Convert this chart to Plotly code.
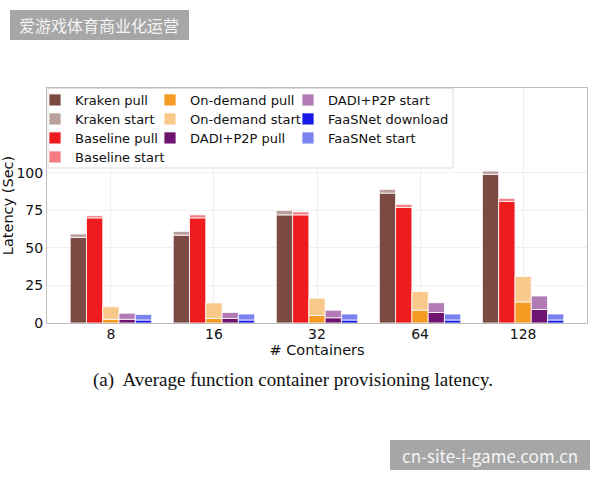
import plotly.graph_objects as go

containers = ["8", "16", "32", "64", "128"]

kraken_pull = [57, 58.5, 72, 86.5, 99]
kraken_start = [2.3, 2.5, 3, 2.5, 2.2]
baseline_pull = [70, 70, 72, 77, 81]
baseline_start = [1.5, 2, 2, 2, 2]
ondemand_pull = [2.5, 3, 5, 8.6, 14]
ondemand_start = [8.3, 10.4, 11.5, 12.4, 17]
dadi_pull = [2.5, 3, 3.5, 7, 9]
dadi_start = [4, 4, 5, 6.5, 9]
faasnet_download = [2, 2, 2, 2, 2]
faasnet_start = [3.7, 4, 4, 4, 4]

series = [
    ("Kraken pull", kraken_pull, None, "#7b4a43", "g1"),
    ("Kraken start", kraken_start, kraken_pull, "#b9a09c", "g1"),
    ("Baseline pull", baseline_pull, None, "#ee1c1e", "g2"),
    ("Baseline start", baseline_start, baseline_pull, "#f37c82", "g2"),
    ("On-demand pull", ondemand_pull, None, "#f59a23", "g3"),
    ("On-demand start", ondemand_start, ondemand_pull, "#f8c98b", "g3"),
    ("DADI+P2P pull", dadi_pull, None, "#6e1470", "g4"),
    ("DADI+P2P start", dadi_start, dadi_pull, "#b27bb6", "g4"),
    ("FaaSNet download", faasnet_download, None, "#1717e8", "g5"),
    ("FaaSNet start", faasnet_start, faasnet_download, "#7b83ef", "g5"),
]

# pixel geometry helpers
L, R, T, B = 47, 587, 88, 323
def px(xp):
    return (xp - L) / (R - L)
def py(yp):
    return (B - yp) / (B - T)

font = "DejaVu Sans"
legfont = dict(family=font, size=13, color="#111111")

# legend slots (column-major, 4/3/3 like matplotlib ncol=3)
col_x = [35, 150, 288]
row_c = [99, 118, 137, 156]
slots = [(0, 0), (0, 1), (0, 2), (0, 3), (1, 0), (1, 1), (1, 2), (2, 0), (2, 1), (2, 2)]

fig = go.Figure()
legends = {}
for i, (name, vals, base, color, grp) in enumerate(series):
    key = "legend" if i == 0 else f"legend{i + 1}"
    fig.add_trace(go.Bar(
        x=containers, y=vals, base=base, name=name, offsetgroup=grp,
        marker=dict(color=color, line=dict(color="white", width=0.8)),
        legend=key, showlegend=True,
    ))
    c, r = slots[i]
    legends[key] = dict(x=px(col_x[c]), y=py(row_c[r] - 14), xanchor="left", yanchor="top",
                        bgcolor="rgba(0,0,0,0)", font=legfont, itemwidth=30, visible=True)

fig.update_layout(
    width=600, height=480,
    showlegend=True,
    margin=dict(l=L, r=600 - R, t=T, b=480 - B, pad=0, autoexpand=False),
    paper_bgcolor="white", plot_bgcolor="white",
    barmode="group", bargap=0.21, bargroupgap=0.0,
    font=dict(family=font, size=13, color="#111111"),
    xaxis=dict(type="category", showgrid=True, gridcolor="#efefef", gridwidth=1,
               showline=True, linecolor="#bdbdbd", linewidth=1, mirror=True,
               ticks="", ticklen=0, ticklabelstandoff=-2,
               tickfont=dict(size=14, color="#111111"), automargin=False,
               title=dict(text="# Containers", font=dict(size=14.5, color="#111111"), standoff=0),
               range=[-0.62, 4.62]),
    yaxis=dict(range=[0, 156.5], tickvals=[0, 25, 50, 75, 100], showgrid=True,
               gridcolor="#efefef", gridwidth=1, zeroline=False,
               showline=True, linecolor="#bdbdbd", linewidth=1, mirror=True,
               ticks="", ticklen=0, tickfont=dict(size=14, color="#111111"), automargin=False,
               title=dict(text="Latency (Sec)", font=dict(size=14.5, color="#111111"), standoff=7)),
    shapes=[
        dict(type="rect", xref="paper", yref="paper", layer="above",
             x0=px(48), x1=px(453), y0=py(168), y1=py(88.5),
             fillcolor="rgba(255,255,255,0.9)", line=dict(color="#dddddd", width=1)),
        dict(type="rect", xref="paper", yref="paper", layer="above",
             x0=px(10), x1=px(189), y0=py(40), y1=py(10),
             fillcolor="#a6a6a6", line=dict(width=0)),
        dict(type="rect", xref="paper", yref="paper", layer="above",
             x0=px(390), x1=px(590), y0=py(470), y1=py(440),
             fillcolor="#a6a6a6", line=dict(width=0)),
    ],
    annotations=[
        dict(text="(a)  Average function container provisioning latency.", xref="paper", yref="paper",
             x=px(293), y=py(380), xanchor="center", yanchor="middle", showarrow=False,
             font=dict(family="Liberation Serif", size=19, color="#111111")),
        dict(text="爱游戏体育商业化运营", xref="paper", yref="paper",
             x=px(99), y=py(25), xanchor="center", yanchor="middle", showarrow=False,
             font=dict(family="Noto Sans CJK SC", size=16, color="#f4f4f4")),
        dict(text="cn-site-i-game.com.cn", xref="paper", yref="paper",
             x=px(490), y=py(455), xanchor="center", yanchor="middle", showarrow=False,
             font=dict(family="Noto Sans CJK SC", size=17, color="#f4f4f4")),
    ],
    **legends,
)

fig.write_html("out.html")
